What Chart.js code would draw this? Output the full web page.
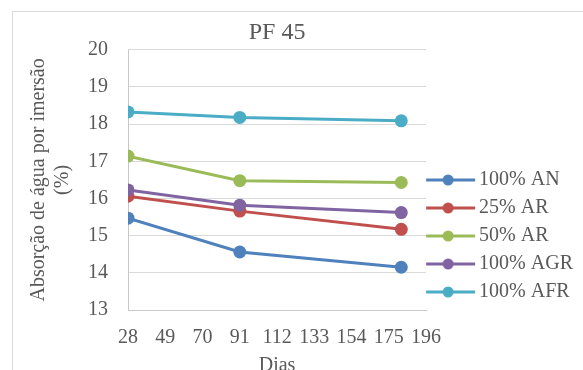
<!DOCTYPE html>
<html>
<head>
<meta charset="utf-8">
<script src="https://cdn.jsdelivr.net/npm/chart.js@4"></script>
<style>
  html, body { margin: 0; padding: 0; background: #fff; }
  #wrap { position: relative; width: 583px; height: 370px; }
  #frame {
    position: absolute; left: 12px; top: 11px; right: -5px; bottom: -5px;
    border-left: 1px solid #d9d9d9; border-top: 1px solid #d9d9d9;
    pointer-events: none;
  }
</style>
</head>
<body>
<div id="wrap">
  <canvas id="chart"></canvas>
  <div id="frame"></div>
</div>
<script>
// days of test
const dias = [28, 91, 182];

// water absorption by immersion (%)
const an100 = [15.47, 14.56, 14.15];
const ar25 = [16.06, 15.66, 15.17];
const ar50 = [17.14, 16.48, 16.43];
const agr100 = [16.23, 15.82, 15.62];
const afr100 = [18.33, 18.18, 18.09];

const seriesNames = ["100% AN", "25% AR", "50% AR", "100% AGR", "100% AFR"];
const seriesValues = [an100, ar25, ar50, agr100, afr100];
const seriesColors = ["#4F81BD", "#C0504D", "#9BBB59", "#8064A2", "#4BACC6"];

const textColor = "#595959";
const gridColor = "#d9d9d9";
const fontFamily = "'Liberation Serif', 'Times New Roman', serif";

// little line + dot used as legend symbol
function legendSymbol(color) {
  const c = document.createElement("canvas");
  c.width = 61;
  c.height = 14;
  const g = c.getContext("2d");
  g.strokeStyle = color;
  g.lineWidth = 3;
  g.beginPath();
  g.moveTo(0, 7);
  g.lineTo(54, 7);
  g.stroke();
  g.fillStyle = color;
  g.beginPath();
  g.arc(27, 7, 5.5, 0, Math.PI * 2);
  g.fill();
  return c;
}

const datasets = seriesNames.map((name, i) => ({
  label: name,
  data: dias.map((d, k) => ({ x: d, y: seriesValues[i][k] })),
  borderColor: seriesColors[i],
  backgroundColor: seriesColors[i],
  pointBackgroundColor: seriesColors[i],
  pointBorderColor: seriesColors[i],
  borderWidth: 3,
  pointRadius: 6.5,
  pointBorderWidth: 0,
  fill: false,
  order: seriesNames.length - i,
  symbol: legendSymbol(seriesColors[i]),
}));

new Chart(document.getElementById("chart"), {
  type: "line",
  data: { datasets },
  options: {
    responsive: true,
    maintainAspectRatio: false,
    animation: false,
    layout: { padding: { left: 15, top: 0, right: 0, bottom: 0 } },
    plugins: {
      tooltip: { enabled: false },
      title: {
        display: true,
        text: "PF 45",
        color: textColor,
        fullSize: false,
        font: { family: fontFamily, size: 24, weight: "normal", lineHeight: 1.2 },
        padding: { top: 18, bottom: 3 },
      },
      legend: {
        display: true,
        position: "right",
        align: "end",
        fullSize: false,
        maxWidth: 220,
        labels: {
          color: textColor,
          font: { family: fontFamily, size: 20 },
          padding: 8,
          usePointStyle: true,
          pointStyleWidth: 35,
          generateLabels(chart) {
            const items = Chart.defaults.plugins.legend.labels.generateLabels(chart);
            items.sort((a, b) => a.datasetIndex - b.datasetIndex);
            items.forEach((it) => {
              it.pointStyle = chart.data.datasets[it.datasetIndex].symbol;
            });
            return items;
          },
        },
      },
    },
    scales: {
      x: {
        type: "linear",
        min: 28,
        max: 196,
        grid: { display: false, drawTicks: false },
        border: { display: true, color: "#c8c8c8", width: 1 },
        ticks: {
          stepSize: 21,
          padding: 16,
          color: textColor,
          font: { family: fontFamily, size: 20 },
          maxRotation: 0,
        },
        title: {
          display: true,
          text: "Dias",
          color: textColor,
          font: { family: fontFamily, size: 20, lineHeight: 1.0 },
          padding: { top: -10, bottom: -6 },
        },
      },
      y: {
        min: 13,
        max: 20,
        grid: { color: gridColor, lineWidth: 1, drawTicks: false },
        border: { display: true, color: "#c8c8c8", width: 1 },
        ticks: {
          stepSize: 1,
          padding: 20,
          color: textColor,
          font: { family: fontFamily, size: 20 },
        },
        title: {
          display: true,
          text: ["Absorção de água por imersão", "(%)"],
          color: textColor,
          font: { family: fontFamily, size: 20, lineHeight: 1.2 },
          padding: { top: 12, bottom: -7 },
        },
      },
    },
  },
});
</script>
</body>
</html>
